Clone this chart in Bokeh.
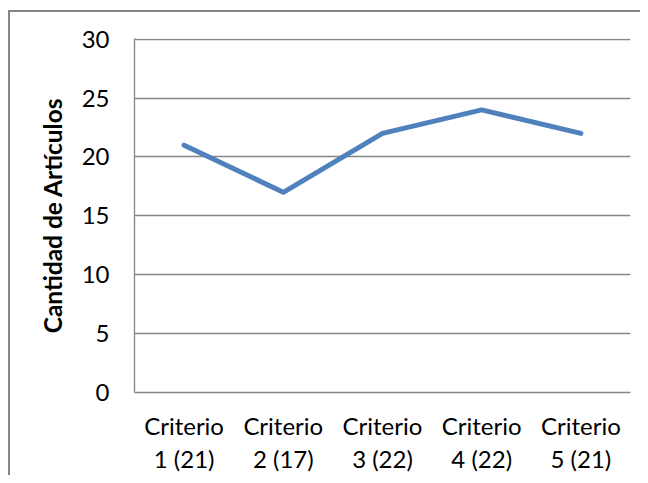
from bokeh.plotting import figure
from bokeh.models import FactorRange, Range1d, FixedTicker
from bokeh.embed import file_html
from bokeh.resources import INLINE

categories = ["Criterio\n1 (21)", "Criterio\n2 (17)", "Criterio\n3 (22)", "Criterio\n4 (22)", "Criterio\n5 (21)"]
values = [21, 17, 22, 24, 22]
y_ticks = [0, 5, 10, 15, 20, 25, 30]
y_title = "Cantidad de Artículos"

FONT = "Lato"
GRID = "#868686"

p = figure(
    width=632, height=465,
    x_range=FactorRange(*categories, range_padding=0),
    y_range=Range1d(0, 30.06),
    output_backend="svg", toolbar_location=None,
    min_border_left=124, min_border_right=12, min_border_top=26, min_border_bottom=85,
)
p.styles = {"border-left": "2px solid #868686", "border-top": "2px solid #868686",
            "margin-top": "10px", "margin-left": "8px", "box-sizing": "border-box"}
p.outline_line_color = None
p.background_fill_color = "white"
p.border_fill_color = "white"

p.line(x=categories, y=values, line_color="#4F81BD", line_width=5, line_cap="round", line_join="round")

p.xgrid.grid_line_color = None
p.ygrid.grid_line_color = GRID
p.ygrid.grid_line_width = 1.3
p.yaxis.ticker = FixedTicker(ticks=y_ticks)

for ax in (p.xaxis, p.yaxis):
    ax.axis_line_color = GRID
    ax.axis_line_width = 1.3
    ax.major_tick_line_color = None
    ax.minor_tick_line_color = None
    ax.major_tick_out = 0
    ax.major_tick_in = 0
    ax.minor_tick_out = 0
    ax.minor_tick_in = 0
    ax.major_label_text_font = FONT
    ax.major_label_text_font_size = "24px"
    ax.major_label_text_color = "black"

p.yaxis.major_label_standoff = 25
p.yaxis.axis_label = y_title
p.yaxis.axis_label_text_font = FONT
p.yaxis.axis_label_text_font_style = "bold"
p.yaxis.axis_label_text_font_size = "24.5px"
p.yaxis.axis_label_text_color = "black"
p.yaxis.axis_label_standoff = 12

p.xaxis.major_label_standoff = 18
p.xaxis.major_label_orientation = "horizontal"
p.xaxis.major_label_text_line_height = 1.15

open("out.html", "w").write(file_html(p, INLINE))
